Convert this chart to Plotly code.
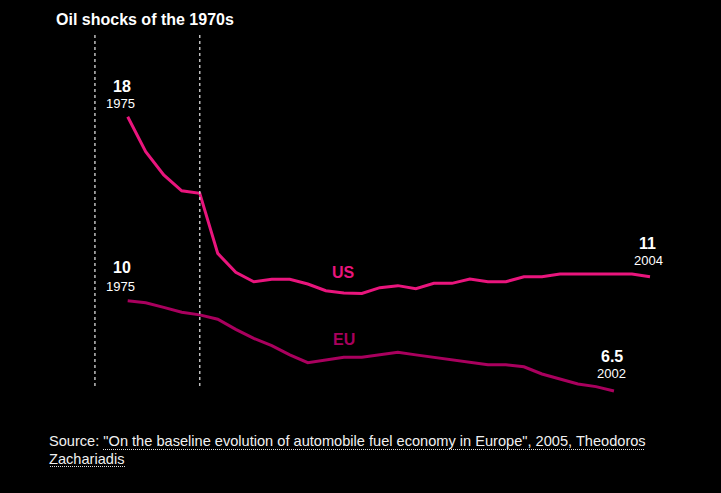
import plotly.graph_objects as go

# ---- data ----
years_us = list(range(1975, 2005))
us_values = [18.0, 16.47, 15.45, 14.76, 14.65, 12.02, 11.19, 10.78, 10.89, 10.89,
             10.68, 10.39, 10.29, 10.27, 10.52, 10.61, 10.48, 10.71, 10.71, 10.90,
             10.78, 10.78, 11.0, 11.0, 11.12, 11.12, 11.12, 11.12, 11.12, 11.0]
years_eu = list(range(1975, 2003))
eu_values = [10.0, 9.92, 9.74, 9.55, 9.45, 9.28, 8.89, 8.54, 8.26, 7.90,
             7.60, 7.70, 7.81, 7.81, 7.90, 8.0, 7.90, 7.81, 7.70, 7.61,
             7.52, 7.52, 7.44, 7.16, 6.97, 6.77, 6.67, 6.5]
oil_shocks = [1973.18, 1979.0]
title_text = "Oil shocks of the 1970s"
source_line1 = 'Source: "On the baseline evolution of automobile fuel economy in Europe", 2005, Theodoros'
source_line2 = "Zachariadis"

US_COLOR = "#e9157d"
EU_COLOR = "#a9005e"
FONT = "Liberation Sans, Arial, sans-serif"
W, H = 721, 493
T, B = 20, 93
plot_h = H - T - B

fig = go.Figure()
fig.add_trace(go.Scatter(x=years_us, y=us_values, mode="lines",
                         line=dict(color=US_COLOR, width=3), yaxis="y", hoverinfo="skip"))
fig.add_trace(go.Scatter(x=years_eu, y=eu_values, mode="lines",
                         line=dict(color=EU_COLOR, width=3), yaxis="y2", hoverinfo="skip"))

for xs in oil_shocks:
    fig.add_shape(type="line", xref="x", yref="paper", x0=xs, x1=xs,
                  y0=(H - B - 386) / plot_h, y1=(H - B - 33) / plot_h,
                  line=dict(color="#bdbdbd", width=1.5, dash="dot"))

ann = []
def lab(x, y, text, size, bold, yshift, xshift=0, color="white", yref="y"):
    t = f"<b>{text}</b>" if bold else text
    ann.append(dict(x=x, y=y, xref="x", yref=yref, text=t, showarrow=False,
                    font=dict(family=FONT, size=size, color=color),
                    xanchor="center", yanchor="middle", yshift=yshift, xshift=xshift))

# US start / end
lab(years_us[0], us_values[0], f"{us_values[0]:g}", 16, True, 30, -6)
lab(years_us[0], us_values[0], str(years_us[0]), 13, False, 13, -7)
lab(years_us[-1], us_values[-1], f"{us_values[-1]:g}", 16, True, 33, -2)
lab(years_us[-1], us_values[-1], str(years_us[-1]), 13, False, 16, -1)
# EU start / end
lab(years_eu[0], eu_values[0], f"{eu_values[0]:g}", 16, True, 33, -6, yref="y2")
lab(years_eu[0], eu_values[0], str(years_eu[0]), 13, False, 14, -7, yref="y2")
lab(years_eu[-1], eu_values[-1], f"{eu_values[-1]:g}", 16, True, 35, -2, yref="y2")
lab(years_eu[-1], eu_values[-1], str(years_eu[-1]), 13, False, 18, -2, yref="y2")
# series names
lab(1987, us_values[12], "US", 16, True, 20, 0, color=US_COLOR)
lab(1987, eu_values[12], "EU", 16, True, 18, 0, color=EU_COLOR, yref="y2")

# title
ann.append(dict(x=54 / W, y=(H - B - 19) / plot_h, xref="paper", yref="paper",
                text=f"<b>{title_text}</b>", showarrow=False, xanchor="left", yanchor="middle",
                font=dict(family=FONT, size=16, color="white")))
# source
for i, s in enumerate([source_line1, source_line2]):
    ann.append(dict(x=47 / W, y=(H - B - (441 + 18 * i)) / plot_h, xref="paper", yref="paper",
                    text=s, showarrow=False, xanchor="left", yanchor="middle",
                    font=dict(family=FONT, size=14.6, color="#f0f0f0")))
# dotted underlines
for (x0, x1, yy) in [(103, 645, 449.5), (50, 125, 466.5)]:
    fig.add_shape(type="line", xref="paper", yref="paper",
                  x0=x0 / W, x1=x1 / W, y0=(H - B - yy) / plot_h, y1=(H - B - yy) / plot_h,
                  line=dict(color="#dddddd", width=1, dash="1px,1px"))

k1 = 22.86
k2 = 25.8
fig.update_layout(
    width=W, height=H,
    margin=dict(l=0, r=0, t=T, b=B),
    paper_bgcolor="black", plot_bgcolor="black",
    showlegend=False,
    annotations=ann,
    xaxis=dict(range=[1975 - 127.7 / 18.01, 1975 + (W - 127.7) / 18.01],
               visible=False, showgrid=False, zeroline=False),
    yaxis=dict(range=[18 - (H - B - 116.7) / k1, 18 + (116.7 - T) / k1],
               visible=False, showgrid=False, zeroline=False),
    yaxis2=dict(range=[10 - (H - B - 300.7) / k2, 10 + (300.7 - T) / k2],
                overlaying="y", visible=False, showgrid=False, zeroline=False),
)

fig.write_html("out.html")
